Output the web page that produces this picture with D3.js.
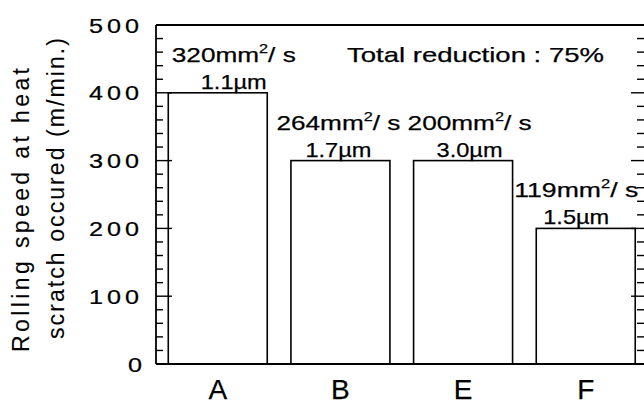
<!DOCTYPE html>
<html>
<head>
<meta charset="utf-8">
<script src="https://cdn.jsdelivr.net/npm/d3@7"></script>
<style>
  html, body { margin: 0; padding: 0; background: #fff; }
  svg { display: block; }
  text { font-family: "Liberation Sans", Arial, Helvetica, sans-serif; fill: #000; stroke: #000; stroke-width: 0.25px; }
  text.title { stroke-width: 0.1px; }
</style>
</head>
<body>
<svg id="chart" width="644" height="405"></svg>
<script>
// Rolling speed at which heat scratch occurred, per oil
const categories = ["A", "B", "E", "F"];
const rollingSpeed = [400, 300, 300, 200];          // m/min
const viscosity = [320, 264, 200, 119];             // mm²/s
const roughness = [1.1, 1.7, 3.0, 1.5];             // µm
const yTickValues = [0, 100, 200, 300, 400, 500];
const yMinorStep = 20;
const noteText = "Total reduction : 75%";
const yTitleLines = ["Rolling speed at heat", "scratch occured  (m/min.)"];

const W = 644, H = 405;
const frame = { left: 156, right: 644, top: 25, bottom: 364 };
// small horizontal nudges for the bar annotations
const annotShift = { A: 16, B: -2, E: 6.5, F: -9.5 };

const svg = d3.select("#chart");

const y = d3.scaleLinear().domain([0, 500]).range([frame.bottom, frame.top]);
const x = d3.scaleBand()
  .domain(categories)
  .range([frame.left, 647.5])
  .paddingInner(0.193)
  .paddingOuter(0.1);

const rows = categories.map((c, i) => ({
  cat: c, speed: rollingSpeed[i], visc: viscosity[i], rough: roughness[i]
}));

// bars
svg.append("g").selectAll("rect")
  .data(rows)
  .join("rect")
  .attr("x", d => x(d.cat))
  .attr("y", d => y(d.speed))
  .attr("width", x.bandwidth())
  .attr("height", d => y(0) - y(d.speed))
  .attr("fill", "#fff")
  .attr("stroke", "#000")
  .attr("stroke-width", 1.6);

// frame lines: left axis, bottom axis, top border
const lineW = 1.8;
svg.append("line").attr("x1", frame.left).attr("x2", frame.left)
  .attr("y1", frame.top).attr("y2", frame.bottom)
  .attr("stroke", "#000").attr("stroke-width", lineW);
svg.append("line").attr("x1", frame.left).attr("x2", W)
  .attr("y1", frame.bottom).attr("y2", frame.bottom)
  .attr("stroke", "#000").attr("stroke-width", lineW);
svg.append("line").attr("x1", frame.left).attr("x2", W)
  .attr("y1", frame.top).attr("y2", frame.top)
  .attr("stroke", "#000").attr("stroke-width", lineW);

// inward ticks on left and right sides
const minorVals = d3.range(0, 500 + 1e-9, yMinorStep);
const isMajor = v => yTickValues.includes(v);
const tickG = svg.append("g").attr("stroke", "#000").attr("stroke-width", 1.4);
tickG.selectAll("line.l")
  .data(minorVals)
  .join("line")
  .attr("class", "l")
  .attr("x1", frame.left)
  .attr("x2", v => frame.left + (isMajor(v) ? 16 : 7))
  .attr("y1", v => y(v)).attr("y2", v => y(v));
tickG.selectAll("line.r")
  .data(minorVals)
  .join("line")
  .attr("class", "r")
  .attr("x1", frame.right)
  .attr("x2", v => frame.right - (isMajor(v) ? 13 : 7))
  .attr("y1", v => y(v)).attr("y2", v => y(v));

// helper: fix a text's drawn width
function fit(sel, len, mode) {
  sel.attr("textLength", len).attr("lengthAdjust", mode || "spacingAndGlyphs");
  return sel;
}

// y tick labels: wide, spaced digits
svg.append("g").selectAll("text")
  .data(yTickValues)
  .join("text")
  .attr("transform", v => `translate(${v === 0 ? 146 : 143},${y(v)}) scale(1.2,1)`)
  .attr("dy", "0.36em")
  .attr("text-anchor", "end")
  .attr("font-size", 21)
  .attr("letter-spacing", 3.3)
  .text(v => v);

// x category labels
svg.append("g").selectAll("text")
  .data(categories)
  .join("text")
  .attr("x", c => x(c) + x.bandwidth() / 2)
  .attr("y", 399)
  .attr("text-anchor", "middle")
  .attr("font-size", 28)
  .attr("stroke-width", 0.4)
  .text(c => c);

// y-axis title, two rotated lines
const titleG = svg.append("g");
[[29, 210, 284], [64, 188.5, 301]].forEach(([tx, ty, len], i) => {
  fit(titleG.append("text")
    .attr("class", "title")
    .attr("transform", `translate(${tx},${ty}) rotate(-90)`)
    .attr("text-anchor", "middle")
    .attr("font-size", 23)
    .text(yTitleLines[i]), len, "spacing");
});

// viscosity annotation above each bar (mm²/s)
const visc = svg.append("g").selectAll("text")
  .data(rows)
  .join("text")
  .attr("x", d => x(d.cat) + x.bandwidth() / 2 + annotShift[d.cat])
  .attr("y", d => y(d.speed) - 31)
  .attr("text-anchor", "middle")
  .attr("font-size", 21)
  .attr("textLength", 124)
  .attr("lengthAdjust", "spacingAndGlyphs");
visc.append("tspan").text(d => `${d.visc}mm`);
visc.append("tspan").attr("font-size", 13).attr("dy", -9).text("2");
visc.append("tspan").attr("dy", 9).text("/ s");

// roughness annotation just above each bar (µm)
svg.append("g").selectAll("text")
  .data(rows)
  .join("text")
  .attr("x", d => x(d.cat) + x.bandwidth() / 2 + annotShift[d.cat])
  .attr("y", d => y(d.speed) - 4)
  .attr("text-anchor", "middle")
  .attr("font-size", 21)
  .attr("textLength", 66)
  .attr("lengthAdjust", "spacingAndGlyphs")
  .text(d => `${d.rough.toFixed(1)}\u00b5m`);

// note
fit(svg.append("text")
  .attr("x", 347)
  .attr("y", 62)
  .attr("font-size", 21)
  .text(noteText), 257);
</script>
</body>
</html>
